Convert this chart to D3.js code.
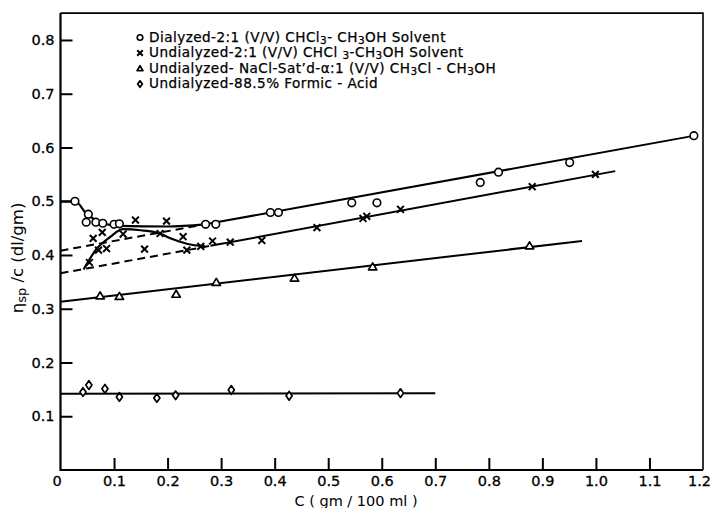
<!DOCTYPE html>
<html><head><meta charset="utf-8">
<script src="https://cdn.jsdelivr.net/npm/d3@7"></script>
<style>body{margin:0;background:#fff}svg{display:block}</style>
</head><body>
<svg id="chart" width="711" height="508"></svg>
<script>
// ---------- data ----------
const xTicks = [0, 0.1, 0.2, 0.3, 0.4, 0.5, 0.6, 0.7, 0.8, 0.9, 1.0, 1.1, 1.2];
const xTickLabels = ["0", "0.1", "0.2", "0.3", "0.4", "0.5", "0.6", "0.7", "0.8", "0.9", "1.0", "1.1", "1.2"];
const yTicks = [0.1, 0.2, 0.3, 0.4, 0.5, 0.6, 0.7, 0.8];
const yTickLabels = ["0.1", "0.2", "0.3", "0.4", "0.5", "0.6", "0.7", "0.8"];

// series points [c, eta_sp/c]
const dialyzed = [[0.027,0.500],[0.048,0.461],[0.052,0.476],[0.066,0.461],[0.079,0.459],[0.100,0.457],[0.110,0.458],
  [0.271,0.457],[0.290,0.457],[0.392,0.479],[0.407,0.479],[0.544,0.497],[0.591,0.497],[0.784,0.535],[0.818,0.554],
  [0.951,0.572],[1.183,0.622]];
const undialyzed = [[0.054,0.386],[0.061,0.431],[0.078,0.442],[0.071,0.409],[0.086,0.412],[0.117,0.439],[0.140,0.465],
  [0.157,0.411],[0.198,0.463],[0.186,0.440],[0.229,0.434],[0.236,0.409],[0.262,0.416],[0.284,0.426],[0.317,0.424],
  [0.376,0.427],[0.479,0.451],[0.565,0.468],[0.572,0.472],[0.635,0.485],[0.881,0.527],[0.999,0.550]];
const naclSatd = [[0.074,0.324],[0.110,0.323],[0.216,0.327],[0.291,0.349],[0.437,0.357],[0.583,0.378],[0.876,0.417]];
const formicAcid = [[0.042,0.145],[0.053,0.158],[0.083,0.151],[0.110,0.136],[0.180,0.134],[0.215,0.139],
  [0.319,0.149],[0.427,0.138],[0.635,0.143]];

// drawn lines [c, eta_sp/c]
const dialyzedCurve = [[0,0.500],[0.027,0.500],[0.050,0.475],[0.075,0.461],[0.110,0.454],[0.200,0.453],[0.270,0.457]];
const dialyzedFitDashed = [[0,0.408],[0.270,0.457]];
const dialyzedFitSolid = [[0.270,0.457],[1.190,0.623]];
const undialyzedCurve = [[0.043,0.373],[0.068,0.412],[0.092,0.433],[0.117,0.448],[0.150,0.446],[0.186,0.440],
  [0.205,0.431],[0.236,0.421],[0.270,0.416]];
const undialyzedFitDashed = [[0,0.366],[0.280,0.417]];
const undialyzedFitSolid = [[0.280,0.417],[1.036,0.556]];
const naclFit = [[0,0.313],[0.974,0.426]];
const formicFit = [[0,0.142],[0.700,0.143]];

const legendLabels = [
  "Dialyzed-2:1 (V/V) CHCl_3- CH_3OH Solvent",
  "Undialyzed-2:1 (V/V) CHCl _3-CH_3OH Solvent",
  "Undialyzed- NaCl-Sat\u2019d-\u03b1:1 (V/V) CH_3Cl - CH_3OH",
  "Undialyzed-88.5% Formic - Acid"
];
const legendMarkers = ["circle", "cross", "triangle", "diamond"];
const xTitle = "C ( gm / 100 ml )";

// ---------- drawing ----------
const svg = d3.select("#chart");
const FONT = "DejaVu Sans";
const x = d3.scaleLinear().domain([0, 1.2]).range([60.5, 703]);
const y = d3.scaleLinear().domain([0, 0.85]).range([470, 13.1]);

const markerPath = {
  cross: s => `M${-s},${-s}L${s},${s}M${-s},${s}L${s},${-s}`,
  triangle: s => `M0,${-s}L${s*1.05},${s*0.75}L${-s*1.05},${s*0.75}Z`,
  diamond: s => `M0,${-s*1.2}L${s*0.85},0L0,${s*1.2}L${-s*0.85},0Z`
};
function drawMarker(g, type, cx, cy, s) {
  if (type === "circle") {
    g.append("circle").attr("cx", cx).attr("cy", cy).attr("r", s)
      .attr("fill", "#fff").attr("stroke", "#000").attr("stroke-width", 1.6);
  } else {
    g.append("path").attr("transform", `translate(${cx},${cy})`).attr("d", markerPath[type](s))
      .attr("fill", type === "cross" ? "none" : "#fff").attr("stroke", "#000")
      .attr("stroke-width", type === "cross" ? 2 : 1.7).attr("stroke-linejoin", "round");
  }
}

// axes
const xAxis = d3.axisBottom(x).tickValues(xTicks).tickSizeInner(-12).tickSizeOuter(0).tickPadding(6)
  .tickFormat((d, i) => xTickLabels[i]);
const yAxis = d3.axisLeft(y).tickValues(yTicks).tickSizeInner(-12).tickSizeOuter(0).tickPadding(6)
  .tickFormat((d, i) => yTickLabels[i]);
const gx = svg.append("g").attr("transform", `translate(0,${y(0)})`).call(xAxis);
const gy = svg.append("g").attr("transform", `translate(${x(0)},0)`).call(yAxis);
[gx, gy].forEach(g => {
  g.select(".domain").remove();
  g.selectAll(".tick line").attr("stroke", "#000").attr("stroke-width", 2);
  g.selectAll(".tick text").attr("fill", "#000").attr("font-family", FONT).attr("font-size", 14.5)
    .attr("stroke", "#000").attr("stroke-width", 0.3);
});
gx.selectAll(".tick").filter(d => d === 0).select("line").remove();
gx.selectAll(".tick").filter(d => d === 0).select("text").attr("dx", -4);
gx.selectAll(".tick").filter(d => d === 1.2).select("line").remove();
gx.selectAll(".tick").filter(d => d === 1.2).select("text").attr("dx", -4);

// frame
const frame = svg.append("g").attr("fill", "none").attr("stroke", "#000");
frame.append("path").attr("stroke-width", 2.2)
  .attr("d", `M${x(0)},${y(0.85)}V${y(0)}H${x(1.2)}`);
frame.append("path").attr("stroke-width", 1.6)
  .attr("d", `M${x(0)},${y(0.85)}H${x(1.2)}V${y(0)}`);

// lines
const lineGen = d3.line().x(d => x(d[0])).y(d => y(d[1]));
const curveGen = d3.line().x(d => x(d[0])).y(d => y(d[1])).curve(d3.curveMonotoneX);
const lines = svg.append("g").attr("fill", "none").attr("stroke", "#000");
[dialyzedFitSolid, undialyzedFitSolid, naclFit, formicFit].forEach(d => {
  lines.append("path").attr("d", lineGen(d)).attr("stroke-width", 2);
});
[dialyzedFitDashed, undialyzedFitDashed].forEach(d => {
  lines.append("path").attr("d", lineGen(d)).attr("stroke-width", 2).attr("stroke-dasharray", "8,5");
});
[dialyzedCurve, undialyzedCurve].forEach(d => {
  lines.append("path").attr("d", curveGen(d)).attr("stroke-width", 2.2);
});

// points
const pts = svg.append("g");
formicAcid.forEach(d => drawMarker(pts, "diamond", x(d[0]), y(d[1]), 3.6));
naclSatd.forEach(d => drawMarker(pts, "triangle", x(d[0]), y(d[1]), 4));
undialyzed.forEach(d => drawMarker(pts, "cross", x(d[0]), y(d[1]), 3.4));
dialyzed.forEach(d => drawMarker(pts, "circle", x(d[0]), y(d[1]), 3.8));

// legend
const leg = svg.append("g");
const legY = [36.5, 52, 67.5, 83];
legendLabels.forEach((lab, i) => {
  drawMarker(leg, legendMarkers[i], 140, legY[i] + 1, 2.8);
  const t = leg.append("text").attr("x", 149).attr("y", legY[i] + 5.2)
    .attr("font-family", FONT).attr("font-size", 13.6).attr("letter-spacing", 0.45).attr("fill", "#000")
    .attr("stroke", "#000").attr("stroke-width", 0.25);
  const parts = lab.split(/_(\d)/);
  parts.forEach((p, k) => {
    if (p === "") return;
    const ts = t.append("tspan").text(p);
    if (k % 2 === 1) ts.attr("font-size", 10.5).attr("baseline-shift", "-1.5");
  });
});

// axis titles
svg.append("text").attr("x", 356).attr("y", 506).attr("text-anchor", "middle")
  .attr("font-family", FONT).attr("font-size", 14.5).text(xTitle);
const yt = svg.append("text").attr("transform", "translate(23,258) rotate(-90)").attr("text-anchor", "middle")
  .attr("font-family", FONT).attr("font-size", 16.5);
yt.append("tspan").text("\u03b7");
yt.append("tspan").attr("font-size", 13).attr("baseline-shift", "-3").text("sp");
yt.append("tspan").text(" /c  (dl/gm)");
</script>
</body></html>
